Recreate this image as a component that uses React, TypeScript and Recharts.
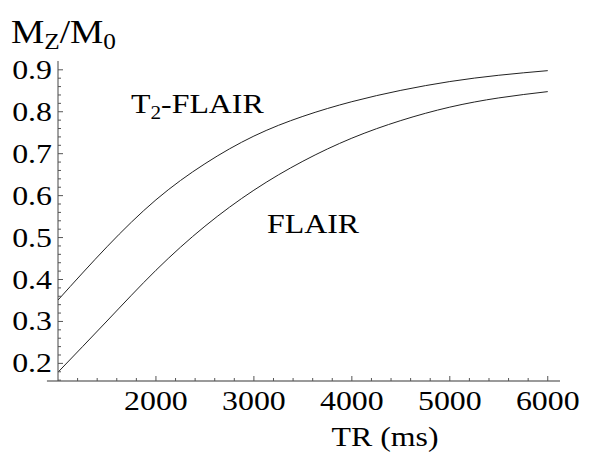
import React from "react";
import { LineChart, Line, XAxis, YAxis, ReferenceLine } from "recharts";

// TR (ms) sample points and the two Mz/M0 curves
const TR = [1000, 1500, 2000, 2500, 3000, 3500, 4000, 4500, 5000, 5500, 6000];
const T2_FLAIR = [0.351, 0.478, 0.59, 0.676, 0.742, 0.789, 0.824, 0.851, 0.872, 0.887, 0.898];
const FLAIR = [0.179, 0.301, 0.422, 0.527, 0.613, 0.682, 0.737, 0.779, 0.811, 0.833, 0.848];

const X_MAJOR = [2000, 3000, 4000, 5000, 6000];
const X_MINOR = [
  1200, 1400, 1600, 1800, 2200, 2400, 2600, 2800, 3200, 3400, 3600, 3800,
  4200, 4400, 4600, 4800, 5200, 5400, 5600, 5800,
];
const Y_MAJOR = [0.2, 0.3, 0.4, 0.5, 0.6, 0.7, 0.8, 0.9];
const Y_MINOR = [
  0.16, 0.18, 0.22, 0.24, 0.26, 0.28, 0.32, 0.34, 0.36, 0.38, 0.42, 0.44, 0.46, 0.48,
  0.52, 0.54, 0.56, 0.58, 0.62, 0.64, 0.66, 0.68, 0.72, 0.74, 0.76, 0.78, 0.82, 0.84,
  0.86, 0.88,
];

const X_DOMAIN = [1000, 6125];
const X_AXIS_START = 887; // axis line runs a little left of the y axis
const Y_DOMAIN = [0.158, 0.921];

const DATA = TR.map((tr, i) => ({ tr, t2flair: T2_FLAIR[i], flair: FLAIR[i] }));

const FONT = '"Liberation Serif", "DejaVu Serif", "Times New Roman", serif';
const SX = 1.18; // glyphs in the original are a bit wide
const W = 594;
const H = 456;

function YTick({ x, y, payload }: any) {
  const major = Y_MAJOR.includes(payload.value);
  return (
    <g>
      <line x1={x} x2={x + (major ? 5 : 3)} y1={y} y2={y} stroke="#555" strokeWidth={1} />
      {major && (
        <text
          transform={`translate(${x - 6},${y + 9}) scale(${SX},1)`}
          textAnchor="end"
          fontFamily={FONT}
          fontSize={27}
          fill="#000"
        >
          {payload.value.toFixed(1)}
        </text>
      )}
    </g>
  );
}

function XTick({ x, y, payload }: any) {
  const major = X_MAJOR.includes(payload.value);
  return (
    <g>
      <line x1={x} x2={x} y1={y} y2={y - (major ? 5 : 3)} stroke="#555" strokeWidth={1} />
      {major && (
        <text
          transform={`translate(${x},${y + 29}) scale(${SX},1)`}
          textAnchor="middle"
          fontFamily={FONT}
          fontSize={27}
          fill="#000"
        >
          {payload.value}
        </text>
      )}
    </g>
  );
}

export default function App() {
  const xTicks = [...X_MINOR, ...X_MAJOR].sort((a, b) => a - b);
  const yTicks = [...Y_MINOR, ...Y_MAJOR].sort((a, b) => a - b);

  return (
    <div style={{ position: "absolute", left: 0, top: 0, width: W, height: H, background: "#fff" }}>
      <LineChart width={W} height={H} data={DATA} margin={{ top: 61, right: 34, bottom: 0, left: 0 }}>
        <XAxis
          dataKey="tr"
          type="number"
          domain={X_DOMAIN}
          allowDataOverflow
          ticks={xTicks}
          interval={0}
          tickSize={0}
          tickMargin={0}
          tickLine={false}
          tick={<XTick />}
          height={75}
          axisLine={{ stroke: "#9a9a9a", strokeWidth: 2 }}
        />
        <YAxis
          type="number"
          domain={Y_DOMAIN}
          allowDataOverflow
          ticks={yTicks}
          interval={0}
          tickSize={0}
          tickMargin={0}
          tickLine={false}
          tick={<YTick />}
          width={58}
          axisLine={{ stroke: "#444", strokeWidth: 1 }}
        />
        <ReferenceLine
          segment={[
            { x: X_AXIS_START, y: Y_DOMAIN[0] },
            { x: X_DOMAIN[0], y: Y_DOMAIN[0] },
          ]}
          ifOverflow="visible"
          stroke="#9a9a9a"
          strokeWidth={2}
        />
        <Line
          dataKey="t2flair"
          type="natural"
          stroke="#222"
          strokeWidth={1}
          dot={false}
          isAnimationActive={false}
        />
        <Line
          dataKey="flair"
          type="natural"
          stroke="#222"
          strokeWidth={1}
          dot={false}
          isAnimationActive={false}
        />
      </LineChart>

      <svg
        width={W}
        height={H}
        style={{ position: "absolute", left: 0, top: 0, pointerEvents: "none" }}
        fontFamily={FONT}
        fill="#000"
      >
        <text transform={`translate(11,43) scale(1.1,1)`} fontSize={34}>
          M
          <tspan fontSize={23} dy={6}>Z</tspan>
          <tspan dy={-6}>/M</tspan>
          <tspan fontSize={23} dy={6}>0</tspan>
        </text>
        <text transform={`translate(131,113) scale(${SX},1)`} fontSize={27}>
          T
          <tspan fontSize={18} dy={6}>2</tspan>
          <tspan dy={-6}>-FLAIR</tspan>
        </text>
        <text transform={`translate(267,233) scale(${SX},1)`} fontSize={27}>
          FLAIR
        </text>
        <text transform={`translate(385,446) scale(${SX},1)`} fontSize={27} textAnchor="middle">
          TR (ms)
        </text>
      </svg>
    </div>
  );
}
